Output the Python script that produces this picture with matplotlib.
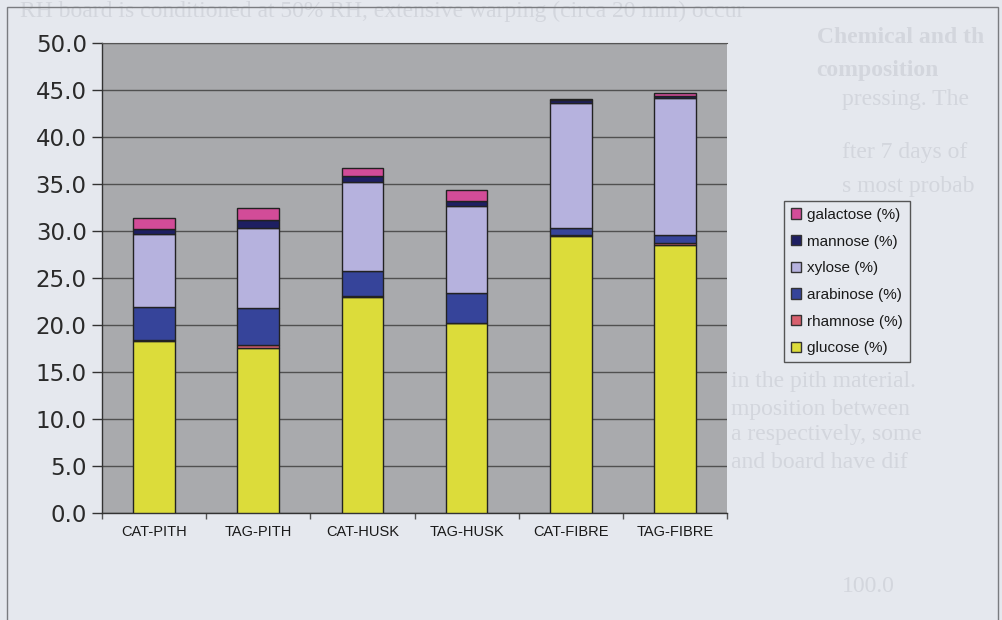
import matplotlib.pyplot as plt
import numpy as np
from matplotlib.patches import Patch, Rectangle

# Sugar composition of pith, husk and fibre (CAT / TAG)
categories = ["CAT-PITH", "TAG-PITH", "CAT-HUSK", "TAG-HUSK", "CAT-FIBRE", "TAG-FIBRE"]
glucose = [18.3, 17.6, 23.0, 20.2, 29.5, 28.5]
rhamnose = [0.1, 0.3, 0.05, 0.05, 0.05, 0.2]
arabinose = [3.5, 3.9, 2.7, 3.2, 0.8, 0.9]
xylose = [7.8, 8.5, 9.5, 9.2, 13.3, 14.6]
mannose = [0.5, 0.9, 0.6, 0.5, 0.3, 0.2]
galactose = [1.2, 1.2, 0.9, 1.2, 0.1, 0.3]

series = [
    ("glucose (%)", glucose, "#dcdc3a"),
    ("rhamnose (%)", rhamnose, "#d8606e"),
    ("arabinose (%)", arabinose, "#36449a"),
    ("xylose (%)", xylose, "#b6b2de"),
    ("mannose (%)", mannose, "#1e1f62"),
    ("galactose (%)", galactose, "#d24c98"),
]

page = "#e5e8ee"
fig = plt.figure(figsize=(10.02, 6.2), dpi=100, facecolor=page)

# faint print-through from the other side of the page
ghost = dict(color="#d3d6dd", family="Liberation Serif", fontsize=17, zorder=0)
fig.text(0.02, 0.972, "RH board is conditioned at 50% RH, extensive warping (circa 20 mm) occur", **ghost)
fig.text(0.815, 0.93, "Chemical and th", fontweight="bold", **ghost)
fig.text(0.815, 0.878, "composition", fontweight="bold", **ghost)
fig.text(0.84, 0.83, "pressing. The", **ghost)
fig.text(0.84, 0.745, "fter 7 days of", **ghost)
fig.text(0.84, 0.69, "s most probab", **ghost)
fig.text(0.73, 0.375, "in the pith material.", **ghost)
fig.text(0.73, 0.33, "mposition between", **ghost)
fig.text(0.73, 0.29, "a respectively, some", **ghost)
fig.text(0.73, 0.245, "and board have dif", **ghost)
fig.text(0.84, 0.045, "100.0", **ghost)

# chart frame
fig.patches.append(Rectangle((7 / 1002, -0.05), 991 / 1002, 1.05 - 7 / 620,
                             transform=fig.transFigure, fill=False,
                             edgecolor="#7a7c80", lw=1.0, zorder=1))

ax = fig.add_axes([102 / 1002, 107 / 620, 625 / 1002, 470 / 620])
ax.set_facecolor("#a9aaad")

x = np.arange(len(categories))
bottom = np.zeros(len(categories))
handles = []
for label, vals, color in series:
    ax.bar(x, vals, width=0.4, bottom=bottom, color=color,
           edgecolor="#222222", linewidth=1.0, zorder=3)
    bottom += np.array(vals)
    handles.append(Patch(facecolor=color, edgecolor="#333333", label=label))

ax.set_xlim(-0.5, len(categories) - 0.5)
ax.set_ylim(0, 50)
ax.set_yticks(np.arange(0, 51, 5))
ax.set_yticklabels([f"{v:.1f}" for v in np.arange(0, 51, 5)],
                   fontsize=16.5, color="#2a2a2a", family="DejaVu Sans")
ax.yaxis.grid(True, color="#505050", lw=1.0, zorder=1)
ax.set_axisbelow(True)
ax.tick_params(axis="y", length=7, width=1, color="#333333", pad=4)

ax.set_xticks(x)
ax.set_xticklabels(categories, fontsize=10.5, family="Liberation Sans", color="#1a1a1a")
ax.set_xticks(np.arange(-0.5, len(categories), 1), minor=True)
ax.tick_params(axis="x", which="major", length=0, pad=9)
ax.tick_params(axis="x", which="minor", length=4, width=1, color="#555555")

for side in ("left", "bottom"):
    ax.spines[side].set_color("#333333")
    ax.spines[side].set_linewidth(1.0)
ax.spines["top"].set_color("#555555")
ax.spines["right"].set_visible(False)

leg = fig.legend(handles=handles[::-1], loc="upper left",
                 bbox_to_anchor=(784 / 1002, 1 - 201 / 620),
                 prop={"family": "Liberation Sans", "size": 11},
                 handlelength=0.65, handleheight=0.65, handletextpad=0.4,
                 labelspacing=0.83, borderpad=0.45, borderaxespad=0,
                 frameon=True, fancybox=False, framealpha=1,
                 facecolor=page, edgecolor="#555555")
leg.get_frame().set_linewidth(1.0)
for t in leg.get_texts():
    t.set_color("#1a1a1a")

fig.savefig("out.png", dpi=100, facecolor=page)
